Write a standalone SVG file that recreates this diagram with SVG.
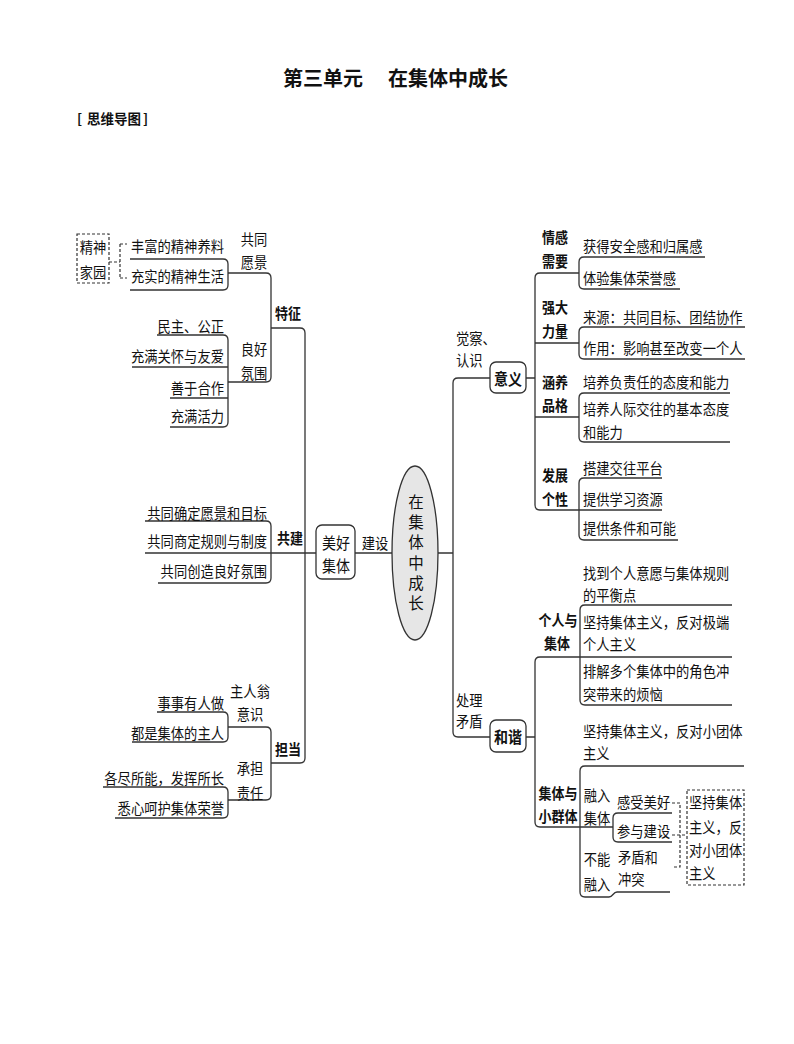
<svg xmlns="http://www.w3.org/2000/svg" width="794" height="1044" viewBox="0 0 794 1044">
<style>
.ln{fill:none;stroke:#333;stroke-width:1.3}
.ds{fill:none;stroke:#333;stroke-width:1.2;stroke-dasharray:3 2}
.box{fill:#fff;stroke:#333;stroke-width:1.3}
text{font-family:"Noto Sans CJK SC",sans-serif;fill:#111;dominant-baseline:central}
.t{font-size:13.3px;transform-box:fill-box;transform-origin:center;transform:scaleY(1.15)}
.e{text-anchor:end}
.m{text-anchor:middle}
.b{font-weight:bold;font-size:13px}
.h{font-weight:bold;font-size:20px}
</style>
<rect width="794" height="1044" fill="#fff"/>
<g id="title">
<text class="h" x="283" y="77">第三单元</text>
<text class="h" x="388" y="77">在集体中成长</text>
<text style="font-weight:bold;font-size:13.5px" y="118"><tspan x="77">[</tspan><tspan x="87">思维导图</tspan><tspan x="143">]</tspan></text>
</g>
<g id="connectors">
<path class="ln" d="M130,259 H223 Q228,259 228,264 V285 Q228,290 223,290 H130"/>
<path class="ln" d="M228,273 H266 Q271,273 271,278 V377 Q271,382 266,382 H228"/>
<path class="ln" d="M271,328 H300 Q305,328 305,333 V758 Q305,763 300,763 H271"/>
<path class="ln" d="M157,335 H223 Q228,335 228,340 V422 Q228,427 223,427 H170"/>
<path class="ln" d="M132,367 H228 M170,398 H228"/>
<path class="ln" d="M145,521 H266 Q271,521 271,526 V578 Q271,583 266,583 H158"/>
<path class="ln" d="M145,553 H316 M355,553 H392 M438,553 H453"/>
<path class="ln" d="M157,712 H223 Q228,712 228,717 V737 Q228,742 223,742 H132"/>
<path class="ln" d="M228,727 H266 Q271,727 271,732 V795 Q271,800 266,800 H228"/>
<path class="ln" d="M103,787 H223 Q228,787 228,792 V813 Q228,818 223,818 H115"/>
<path class="ln" d="M490,378 H458 Q453,378 453,383 V732 Q453,737 458,737 H490"/>
<path class="ln" d="M526,378 H535 M526,737 H535"/>
<path class="ln" d="M579,273 H540 Q535,273 535,278 V505 Q535,510 540,510 H662"/>
<path class="ln" d="M535,343 H579 M535,417 H579"/>
<path class="ln" d="M705,257 H584 Q579,257 579,262 V284 Q579,289 584,289 H680"/>
<path class="ln" d="M745,327 H584 Q579,327 579,332 V354 Q579,359 584,359 H745"/>
<path class="ln" d="M730,393 H584 Q579,393 579,398 V437 Q579,442 584,442 H730"/>
<path class="ln" d="M662,478 H584 Q579,478 579,483 V535 Q579,540 584,540 H678"/>
<path class="ln" d="M732,657 H540 Q535,657 535,662 V822 Q535,827 540,827 H613"/>
<path class="ln" d="M732,605 H585 Q580,605 580,610 V700 Q580,705 585,705 H732"/>
<path class="ln" d="M744,766 H585 Q580,766 580,771 V892 Q580,897 585,897 H609 C613,897 613,892 617,892 H670"/>
<path class="ln" d="M672,813 H618 Q613,813 613,818 V837 Q613,842 618,842 H672"/>
<path class="ds" d="M109,262 H120 M120,244 V278 M120,244 H127 M120,278 H127"/>
<path class="ds" d="M672,803 H680 V867 H672 M672,835 H687"/>
</g>
<g id="n-jingshenjiayuan">
<rect class="ds" x="77" y="234" width="32" height="49"/>
<text class="t m" x="93" y="246">精神</text>
<text class="t m" x="93" y="271">家园</text>
</g>
<g id="n-gongtongyuanjing">
<text class="t m" x="254" y="238">共同</text>
<text class="t m" x="254" y="261">愿景</text>
<text class="t e" x="224" y="245">丰富的精神养料</text>
<text class="t e" x="224" y="275">充实的精神生活</text>
</g>
<g id="n-tezheng"><text class="t b m" x="288" y="313">特征</text></g>
<g id="n-lianghaofenwei">
<text class="t m" x="254" y="348">良好</text>
<text class="t m" x="254" y="372">氛围</text>
<text class="t e" x="224" y="325">民主、公正</text>
<text class="t e" x="224" y="355">充满关怀与友爱</text>
<text class="t e" x="224" y="387">善于合作</text>
<text class="t e" x="224" y="415">充满活力</text>
</g>
<g id="n-gongjian">
<text class="t b m" x="290" y="538">共建</text>
<text class="t e" x="267" y="512">共同确定愿景和目标</text>
<text class="t e" x="267" y="540">共同商定规则与制度</text>
<text class="t e" x="267" y="570">共同创造良好氛围</text>
</g>
<g id="n-meihaojiti">
<rect class="box" x="316" y="525" width="39" height="54" rx="6"/>
<text class="t m" style="font-size:14px" x="336" y="542">美好</text>
<text class="t m" style="font-size:14px" x="336" y="565">集体</text>
<text class="t m" x="375" y="542">建设</text>
</g>
<g id="n-center">
<ellipse cx="415" cy="553" rx="23" ry="87" fill="#e6e6e6" stroke="#333" stroke-width="1.3"/>
<text x="416" y="555" style="font-size:15.5px;writing-mode:vertical-rl;text-anchor:middle;letter-spacing:4.8px">在集体中成长</text>
</g>
<g id="n-dandang"><text class="t b m" x="288" y="749">担当</text></g>
<g id="n-zhurenweng">
<text class="t m" x="250" y="690">主人翁</text>
<text class="t m" x="250" y="713">意识</text>
<text class="t e" x="224" y="702">事事有人做</text>
<text class="t e" x="224" y="732">都是集体的主人</text>
</g>
<g id="n-chengdan">
<text class="t m" x="250" y="767">承担</text>
<text class="t m" x="250" y="792">责任</text>
<text class="t e" x="224" y="777">各尽所能，发挥所长</text>
<text class="t e" x="224" y="807">悉心呵护集体荣誉</text>
</g>
<g id="n-yiyi">
<text class="t" x="456" y="337">觉察、</text>
<text class="t" x="456" y="359">认识</text>
<rect class="box" x="490" y="362" width="36" height="31" rx="6"/>
<text class="t b m" style="font-size:14px" x="508" y="378">意义</text>
</g>
<g id="n-qinggan">
<text class="t b m" x="555" y="237">情感</text>
<text class="t b m" x="555" y="261">需要</text>
<text class="t" x="583" y="245">获得安全感和归属感</text>
<text class="t" x="583" y="277">体验集体荣誉感</text>
</g>
<g id="n-qiangda">
<text class="t b m" x="555" y="307">强大</text>
<text class="t b m" x="555" y="331">力量</text>
<text class="t" x="583" y="316">来源：共同目标、团结协作</text>
<text class="t" x="583" y="347">作用：影响甚至改变一个人</text>
</g>
<g id="n-hanyang">
<text class="t b m" x="555" y="382">涵养</text>
<text class="t b m" x="555" y="405">品格</text>
<text class="t" x="583" y="381">培养负责任的态度和能力</text>
<text class="t" x="583" y="408">培养人际交往的基本态度</text>
<text class="t" x="583" y="431">和能力</text>
</g>
<g id="n-fazhan">
<text class="t b m" x="555" y="475">发展</text>
<text class="t b m" x="555" y="499">个性</text>
<text class="t" x="583" y="467">搭建交往平台</text>
<text class="t" x="583" y="498">提供学习资源</text>
<text class="t" x="583" y="527">提供条件和可能</text>
</g>
<g id="n-hexie">
<text class="t" x="456" y="699">处理</text>
<text class="t" x="456" y="720">矛盾</text>
<rect class="box" x="490" y="720" width="36" height="32" rx="6"/>
<text class="t b m" style="font-size:14px" x="508" y="736">和谐</text>
</g>
<g id="n-gerenyujiti">
<text class="t b m" x="558" y="620">个人与</text>
<text class="t b m" x="557" y="643">集体</text>
<text class="t" x="583" y="572">找到个人意愿与集体规则</text>
<text class="t" x="583" y="594">的平衡点</text>
<text class="t" x="583" y="621">坚持集体主义，反对极端</text>
<text class="t" x="583" y="643">个人主义</text>
<text class="t" x="583" y="670">排解多个集体中的角色冲</text>
<text class="t" x="583" y="693">突带来的烦恼</text>
</g>
<g id="n-jitiyuxiaoqunti">
<text class="t b m" x="558" y="793">集体与</text>
<text class="t b m" x="558" y="816">小群体</text>
<text class="t" x="583" y="730">坚持集体主义，反对小团体</text>
<text class="t" x="583" y="752">主义</text>
</g>
<g id="n-rongrujiti">
<text class="t m" x="597" y="794">融入</text>
<text class="t m" x="597" y="817">集体</text>
<text class="t" x="617" y="801">感受美好</text>
<text class="t" x="617" y="830">参与建设</text>
</g>
<g id="n-bunengrongru">
<text class="t m" x="597" y="858">不能</text>
<text class="t m" x="597" y="883">融入</text>
<text class="t" x="618" y="856">矛盾和</text>
<text class="t" x="618" y="878">冲突</text>
</g>
<g id="n-jianchi">
<rect class="ds" x="687" y="790" width="57" height="95"/>
<text class="t" x="689" y="801">坚持集体</text>
<text class="t" x="689" y="826">主义，反</text>
<text class="t" x="689" y="849">对小团体</text>
<text class="t" x="689" y="872">主义</text>
</g>
</svg>
